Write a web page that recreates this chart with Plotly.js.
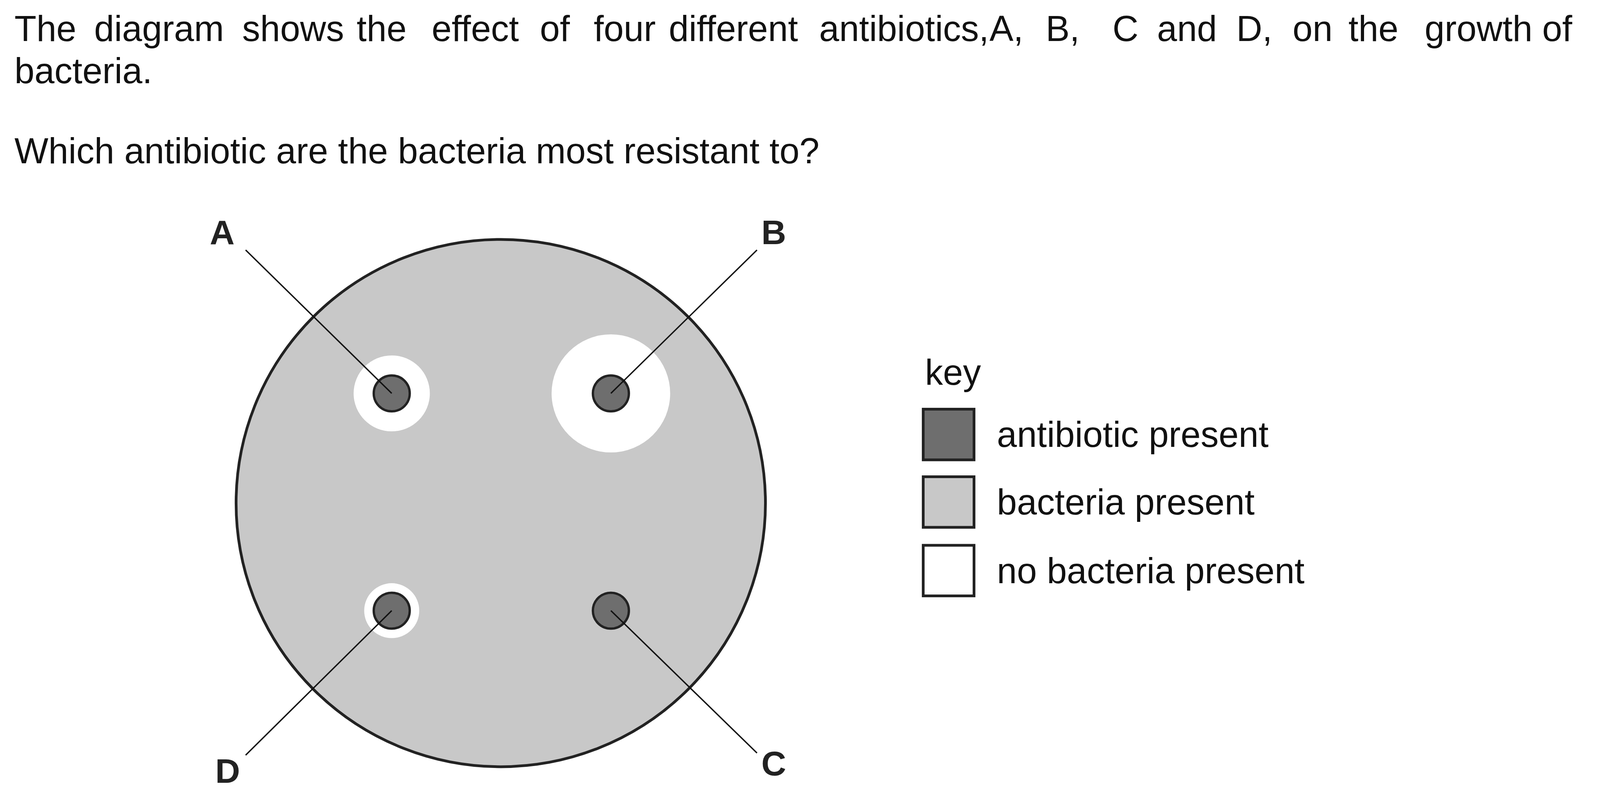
<!DOCTYPE html><html><head><script src="https://cdn.plot.ly/plotly-3.0.1.min.js"></script>
<style>body{margin:0;background:#fff}</style></head><body><div id="g" style="width:4201px;height:2025px"></div><script>
const dishCenter=[473,477], dishRadius=250;
const discLabels=['A','B','C','D'];
const discX=[370,577,577,370];
const discY=[373,373,579,579];
const clearZoneRadius=[36,56,0,26];
const discRadius=17;
const labelX=[210,731,731,215];
const labelY=[220,220,724,731];
const lineEndX=[232,715,715,232];
const lineEndY=[237,237,714,716];
const keyLabels=['antibiotic present','bacteria present','no bacteria present'];
const keyColors=['#6e6e6e','#c8c8c8','#ffffff'];
const keyY=[412,476,541];
const line1Words=['The','diagram','shows','the','effect','of','four','different','antibiotics,','A,','B,','C','and','D,','on','the','growth','of'];
const line1X=[13,88,228,336,407,509,560,631,773,934,987,1050,1092,1167,1220,1273,1345,1456];

const F='Liberation Sans, Arial, sans-serif';
const FS=92;
const shapes=[], ann=[];
const circ=(cx,cy,r,fill,lw)=>shapes.push({type:'circle',layer:'below',xref:'x',yref:'y',x0:cx-r,x1:cx+r,y0:cy-r,y1:cy+r,fillcolor:fill,line:{color:'#222',width:lw}});
circ(dishCenter[0],dishCenter[1],dishRadius,'#c8c8c8',7);
discX.forEach((x,i)=>{ if(clearZoneRadius[i]>0) circ(x,discY[i],clearZoneRadius[i],'#ffffff',0); });
discX.forEach((x,i)=>circ(x,discY[i],discRadius,'#6e6e6e',6));
const traces=discX.map((x,i)=>({x:[lineEndX[i],x],y:[lineEndY[i],discY[i]],mode:'lines',line:{color:'#111',width:3.5},hoverinfo:'skip'}));
discLabels.forEach((t,i)=>ann.push({x:labelX[i],y:labelY[i],text:'<b>'+t+'</b>',showarrow:false,font:{family:F,size:88,color:'#222'}}));
keyLabels.forEach((t,i)=>{
  shapes.push({type:'rect',xref:'x',yref:'y',x0:872,x1:920,y0:keyY[i]-24,y1:keyY[i]+24,fillcolor:keyColors[i],line:{color:'#222',width:7}});
  ann.push({x:941,y:keyY[i],text:t,xanchor:'left',showarrow:false,font:{family:F,size:FS,color:'#111'}});
});
ann.push({x:873,y:353,text:'key',xanchor:'left',showarrow:false,font:{family:F,size:FS,color:'#111'}});
line1Words.forEach((w,i)=>ann.push({x:line1X[i],y:27,text:w,xanchor:'left',showarrow:false,font:{family:F,size:FS,color:'#111'}}));
ann.push({x:13,y:67,text:'bacteria.',xanchor:'left',showarrow:false,font:{family:F,size:FS,color:'#111'}});
ann.push({x:13,y:143,text:'Which antibiotic are the bacteria most resistant to?',xanchor:'left',showarrow:false,font:{family:F,size:FS,color:'#111'}});
Plotly.newPlot('g',traces,{width:4201,height:2025,margin:{l:0,r:0,t:0,b:0},showlegend:false,
 paper_bgcolor:'#fff',plot_bgcolor:'rgba(0,0,0,0)',
 xaxis:{range:[0,1550],visible:false,fixedrange:true},
 yaxis:{range:[750,0],visible:false,fixedrange:true},
 shapes:shapes,annotations:ann},{staticPlot:true});
</script></body></html>
